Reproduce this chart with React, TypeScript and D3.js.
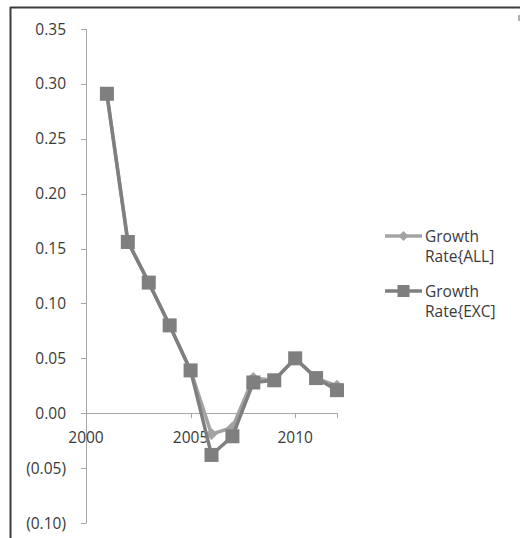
import React from "react";
import * as d3 from "d3";

// Annual growth rates, 2001–2012
const years = [2001, 2002, 2003, 2004, 2005, 2006, 2007, 2008, 2009, 2010, 2011, 2012];
const growthAll = [0.29, 0.157, 0.119, 0.08, 0.039, -0.019, -0.013, 0.032, 0.03, 0.05, 0.032, 0.025];
const growthExc = [0.291, 0.156, 0.119, 0.08, 0.039, -0.038, -0.021, 0.028, 0.03, 0.05, 0.032, 0.021];
const yTicks = [-0.1, -0.05, 0, 0.05, 0.1, 0.15, 0.2, 0.25, 0.3, 0.35];
const xTicks = [2000, 2005, 2010];
const seriesNames = ["Growth\nRate{ALL]", "Growth\nRate{EXC]"];

const W = 520;
const H = 538;
const FONT = "'Open Sans', 'Noto Sans', sans-serif";
const TEXT = "#3a3a3a";
const AXIS = "#a6a6a6";
const COLOR_ALL = "#a3a3a3";
const COLOR_EXC = "#7f7f7f";

const fmtY = (v: number) => {
  const s = Math.abs(v).toFixed(2);
  return v < -1e-9 ? `(${s})` : s;
};

export default function App() {
  const x = d3.scaleLinear().domain([2000, 2012]).range([86, 337]);
  const y = d3.scaleLinear().domain([-0.1, 0.35]).range([523, 29]);

  const line = d3
    .line<number>()
    .x((_, i) => x(years[i]))
    .y((d) => y(d));

  const diamond = (cx: number, cy: number, r: number) =>
    `M${cx},${cy - r}L${cx + r},${cy}L${cx},${cy + r}L${cx - r},${cy}Z`;

  const sq = 14;
  const y0 = y(0);

  return (
    <svg
      width={W}
      height={H}
      style={{ position: "absolute", left: 0, top: 0, background: "#fff" }}
      fontFamily={FONT}
    >
      <rect x={0} y={0} width={W} height={H} fill="#fff" />
      {/* outer frame */}
      <line x1={10.5} y1={7} x2={10.5} y2={H} stroke="#3c3c3c" strokeWidth={2} />
      <line x1={10} y1={7.5} x2={W} y2={7.5} stroke="#3c3c3c" strokeWidth={2} />
      <rect x={518} y={15} width={2} height={6} fill="#b0b0b0" />

      {/* y axis */}
      <line x1={86.5} y1={y(0.35)} x2={86.5} y2={y(-0.1)} stroke={AXIS} strokeWidth={1} />
      {yTicks.map((t) => (
        <g key={t}>
          <line x1={81} x2={86.5} y1={Math.round(y(t)) + 0.5} y2={Math.round(y(t)) + 0.5} stroke={AXIS} />
          <text
            x={66}
            y={y(t)}
            dy="0.36em"
            textAnchor="end"
            fontSize={15.5}
            fill={TEXT}
          >
            {fmtY(t)}
          </text>
        </g>
      ))}

      {/* x axis at zero */}
      <line x1={86} x2={337} y1={Math.round(y0) + 0.5} y2={Math.round(y0) + 0.5} stroke={AXIS} />
      {xTicks.map((t) => (
        <g key={t}>
          <line x1={Math.round(x(t)) + 0.5} x2={Math.round(x(t)) + 0.5} y1={y0} y2={y0 + 5} stroke={AXIS} />
          <text x={x(t)} y={y0 + 30} textAnchor="middle" fontSize={15.5} fill={TEXT}>
            {t}
          </text>
        </g>
      ))}
      <line x1={337.5} x2={337.5} y1={y0} y2={y0 + 5} stroke={AXIS} />

      {/* Growth Rate{ALL] */}
      <path d={line(growthAll) || ""} fill="none" stroke={COLOR_ALL} strokeWidth={3.5} strokeLinejoin="round" />
      {growthAll.map((v, i) => (
        <path key={i} d={diamond(x(years[i]), y(v), 6)} fill={COLOR_ALL} />
      ))}

      {/* Growth Rate{EXC] */}
      <path d={line(growthExc) || ""} fill="none" stroke={COLOR_EXC} strokeWidth={3.5} strokeLinejoin="round" />
      {growthExc.map((v, i) => (
        <rect
          key={i}
          x={x(years[i]) - sq / 2}
          y={y(v) - sq / 2}
          width={sq}
          height={sq}
          fill={COLOR_EXC}
        />
      ))}

      {/* legend */}
      {seriesNames.map((name, k) => {
        const ly = 236 + k * 55;
        const color = k === 0 ? COLOR_ALL : COLOR_EXC;
        const lines = name.split("\n");
        return (
          <g key={name}>
            <line x1={385} x2={422} y1={ly} y2={ly} stroke={color} strokeWidth={3.5} />
            {k === 0 ? (
              <path d={diamond(403.5, ly, 5)} fill={color} />
            ) : (
              <rect x={397.5} y={ly - 6} width={12} height={12} fill={color} />
            )}
            {lines.map((s, j) => (
              <text key={j} x={425} y={ly + 6 + j * 20} fontSize={15.5} fill={TEXT}>
                {s}
              </text>
            ))}
          </g>
        );
      })}
    </svg>
  );
}
